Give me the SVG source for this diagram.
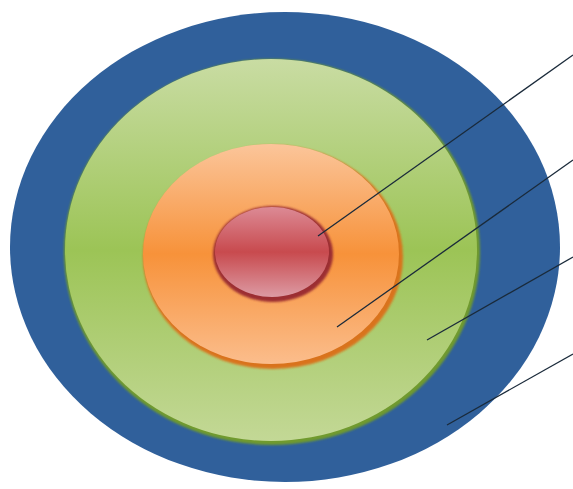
<svg xmlns="http://www.w3.org/2000/svg" width="573" height="489" viewBox="0 0 573 489">
<defs>
<linearGradient id="gGreen" x1="0" y1="0" x2="0" y2="1">
<stop offset="0" stop-color="#c9dca3"/>
<stop offset="0.5" stop-color="#9cc456"/>
<stop offset="1" stop-color="#c3d896"/>
</linearGradient>
<linearGradient id="gOrange" x1="0" y1="0" x2="0" y2="1">
<stop offset="0" stop-color="#fbc59a"/>
<stop offset="0.5" stop-color="#f7923a"/>
<stop offset="1" stop-color="#fbbd8c"/>
</linearGradient>
<linearGradient id="gRed" x1="0" y1="0" x2="0" y2="1">
<stop offset="0" stop-color="#dc8a95"/>
<stop offset="0.5" stop-color="#c84a4e"/>
<stop offset="1" stop-color="#dc9aa3"/>
</linearGradient>
<filter id="sh" x="-10%" y="-10%" width="120%" height="120%">
<feGaussianBlur stdDeviation="1.2"/>
</filter>
</defs>
<style>
.line{stroke:#1a2a3a;stroke-width:1.3;fill:none}
</style>
<rect width="573" height="489" fill="#ffffff"/>
<g id="ring-outer">
<ellipse cx="285" cy="247" rx="275" ry="235" fill="#30609b"/>
</g>
<g id="ring-green">
<ellipse cx="272" cy="252" rx="208" ry="193" fill="#6f9a2e" filter="url(#sh)"/>
<ellipse cx="271" cy="250" rx="206" ry="191" fill="url(#gGreen)"/>
</g>
<g id="ring-orange">
<ellipse cx="273" cy="257" rx="130" ry="112" fill="#d9731f" filter="url(#sh)"/>
<ellipse cx="271" cy="254" rx="128" ry="110" fill="url(#gOrange)"/>
</g>
<g id="core">
<ellipse cx="273" cy="254" rx="60" ry="48" fill="#9c2f33" filter="url(#sh)"/>
<ellipse cx="272" cy="252" rx="57" ry="45" fill="url(#gRed)"/>
</g>
<g id="connectors">
<line class="line" x1="318" y1="236" x2="573" y2="55"/>
<line class="line" x1="337" y1="327" x2="573" y2="160"/>
<line class="line" x1="427" y1="340" x2="573" y2="257"/>
<line class="line" x1="447" y1="425" x2="573" y2="354"/>
</g>
</svg>
